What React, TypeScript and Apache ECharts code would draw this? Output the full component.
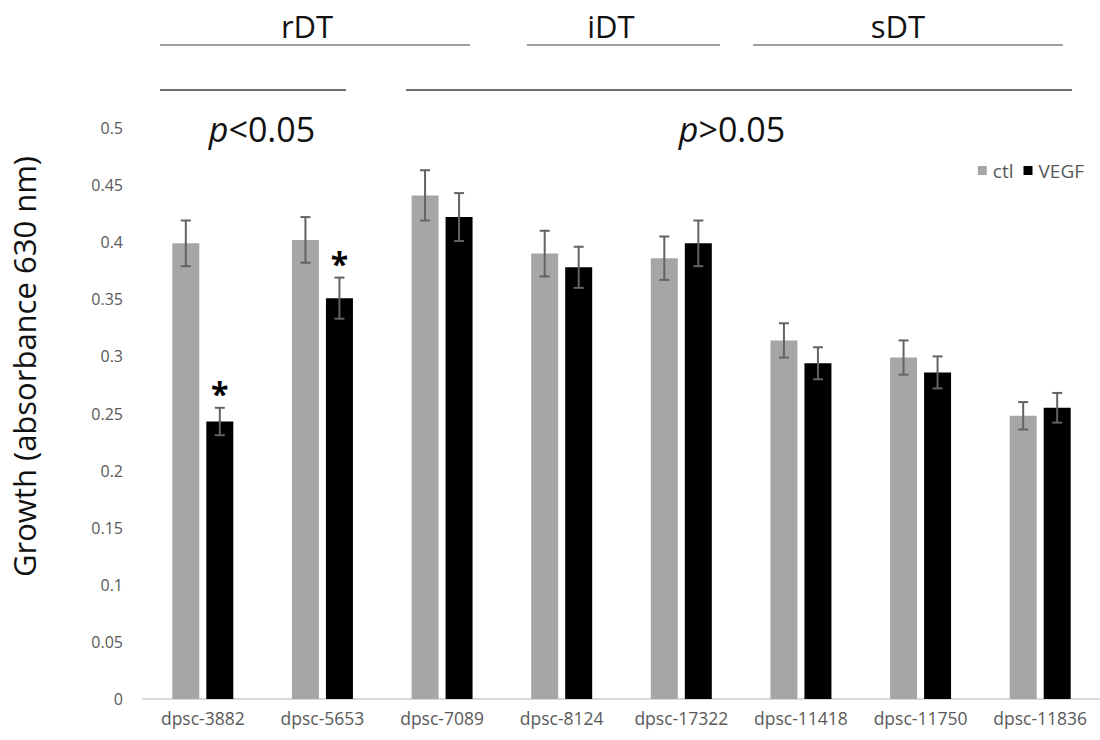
import React, { useEffect, useRef } from "react";
import * as echarts from "echarts";

const categories = ["dpsc-3882", "dpsc-5653", "dpsc-7089", "dpsc-8124", "dpsc-17322", "dpsc-11418", "dpsc-11750", "dpsc-11836"];
const ctlValues = [0.399, 0.402, 0.441, 0.390, 0.386, 0.314, 0.299, 0.248];
const ctlErrors = [0.020, 0.020, 0.022, 0.020, 0.019, 0.015, 0.015, 0.012];
const vegfValues = [0.243, 0.351, 0.422, 0.378, 0.399, 0.294, 0.286, 0.255];
const vegfErrors = [0.012, 0.018, 0.021, 0.018, 0.020, 0.014, 0.014, 0.013];
const vegfSignificant = [true, true, false, false, false, false, false, false];
const yTicks = { min: 0, max: 0.5, interval: 0.05 };

const FONT = "'Open Sans', 'Noto Sans', sans-serif";
const BAR_W = 27;
const BAR_GAP = 7;
const OFFSET = (BAR_W + BAR_GAP) / 2;

function errorSeries(name: string, values: number[], errors: number[], dir: number, sig?: boolean[]) {
  return {
    type: "custom",
    name: name + "-err",
    z: 10,
    silent: true,
    data: values.map((v, i) => [i, v, errors[i], sig && sig[i] ? 1 : 0]),
    renderItem: (params: any, api: any) => {
      const idx = api.value(0);
      const v = api.value(1);
      const e = api.value(2);
      const s = api.value(3);
      const top = api.coord([idx, v + e]);
      const bot = api.coord([idx, v - e]);
      const x = top[0] + dir * OFFSET;
      const cap = 5;
      const st = { stroke: "#636363", lineWidth: 2 };
      const children: any[] = [
        { type: "line", shape: { x1: x, y1: top[1], x2: x, y2: bot[1] }, style: st },
        { type: "line", shape: { x1: x - cap, y1: top[1], x2: x + cap, y2: top[1] }, style: st },
        { type: "line", shape: { x1: x - cap, y1: bot[1], x2: x + cap, y2: bot[1] }, style: st },
      ];
      if (s) {
        children.push({
          type: "text",
          style: {
            text: "*",
            x: x,
            y: top[1] + 2,
            align: "center",
            verticalAlign: "bottom",
            font: "bold 32px " + FONT,
            fill: "#000",
          },
        });
      }
      return { type: "group", children };
    },
  };
}

export default function App() {
  const ref = useRef<HTMLDivElement>(null);
  useEffect(() => {
    if (!ref.current) return;
    const chart = echarts.init(ref.current, null, { renderer: "svg" });
    const textStyle = (size: number) => ({ font: `${size}px ${FONT}`, fill: "#111" });
    chart.setOption({
      animation: false,
      backgroundColor: "#fff",
      textStyle: { fontFamily: FONT },
      grid: { left: 143, top: 128, width: 969, bottom: 41, containLabel: false },
      legend: {
        right: 11,
        top: 156,
        itemWidth: 9,
        itemHeight: 9,
        itemGap: 10,
        icon: "rect",
        textStyle: { color: "#595959", fontSize: 19, fontFamily: FONT, padding: [0, 0, 0, 1] },
        data: ["ctl", "VEGF"],
      },
      xAxis: {
        type: "category",
        data: categories,
        axisLine: { lineStyle: { color: "#d9d9d9", width: 2 } },
        axisTick: { show: false },
        axisLabel: { color: "#595959", fontSize: 17.5, margin: 10, fontFamily: FONT, interval: 0, hideOverlap: false },
      },
      yAxis: {
        type: "value",
        min: yTicks.min,
        max: yTicks.max,
        interval: yTicks.interval,
        splitLine: { show: false },
        axisLine: { show: false },
        axisTick: { show: false },
        axisLabel: { color: "#595959", fontSize: 16, margin: 20, fontFamily: FONT },
        name: "Growth (absorbance 630 nm)",
        nameLocation: "middle",
        nameGap: 104,
        nameTextStyle: { color: "#111", fontSize: 31, fontFamily: FONT, padding: [0, 0, 0, 94] },
      },
      series: [
        { type: "bar", name: "ctl", data: ctlValues, barWidth: BAR_W, barGap: `${(BAR_GAP / BAR_W) * 100}%`, itemStyle: { color: "#a6a6a6" } },
        { type: "bar", name: "VEGF", data: vegfValues, barWidth: BAR_W, itemStyle: { color: "#000000" } },
        errorSeries("ctl", ctlValues, ctlErrors, -1),
        errorSeries("VEGF", vegfValues, vegfErrors, 1, vegfSignificant),
      ],
      graphic: [
        { type: "text", x: 307, y: 26, style: { text: "rDT", ...textStyle(31), align: "center", verticalAlign: "middle" } },
        { type: "text", x: 611, y: 26, style: { text: "iDT", ...textStyle(31), align: "center", verticalAlign: "middle" } },
        { type: "text", x: 898, y: 26, style: { text: "sDT", ...textStyle(31), align: "center", verticalAlign: "middle" } },
        { type: "line", shape: { x1: 160, y1: 45, x2: 470, y2: 45 }, style: { stroke: "#7f7f7f", lineWidth: 1.5 } },
        { type: "line", shape: { x1: 527, y1: 45, x2: 720, y2: 45 }, style: { stroke: "#7f7f7f", lineWidth: 1.5 } },
        { type: "line", shape: { x1: 753, y1: 45, x2: 1063, y2: 45 }, style: { stroke: "#7f7f7f", lineWidth: 1.5 } },
        { type: "line", shape: { x1: 160, y1: 90, x2: 346, y2: 90 }, style: { stroke: "#404040", lineWidth: 1.5 } },
        { type: "line", shape: { x1: 406, y1: 90, x2: 1072, y2: 90 }, style: { stroke: "#404040", lineWidth: 1.5 } },
        {
          type: "text", x: 262, y: 129,
          style: {
            text: "{p|p}<0.05", align: "center", verticalAlign: "middle", ...textStyle(34),
            rich: { p: { font: `italic 34px ${FONT}`, fill: "#111" } },
          },
        },
        {
          type: "text", x: 732, y: 129,
          style: {
            text: "{p|p}>0.05", align: "center", verticalAlign: "middle", ...textStyle(34),
            rich: { p: { font: `italic 34px ${FONT}`, fill: "#111" } },
          },
        },
      ],
    });
    return () => chart.dispose();
  }, []);
  return <div ref={ref} style={{ position: "fixed", left: 0, top: 0, width: 1100, height: 740 }} />;
}
